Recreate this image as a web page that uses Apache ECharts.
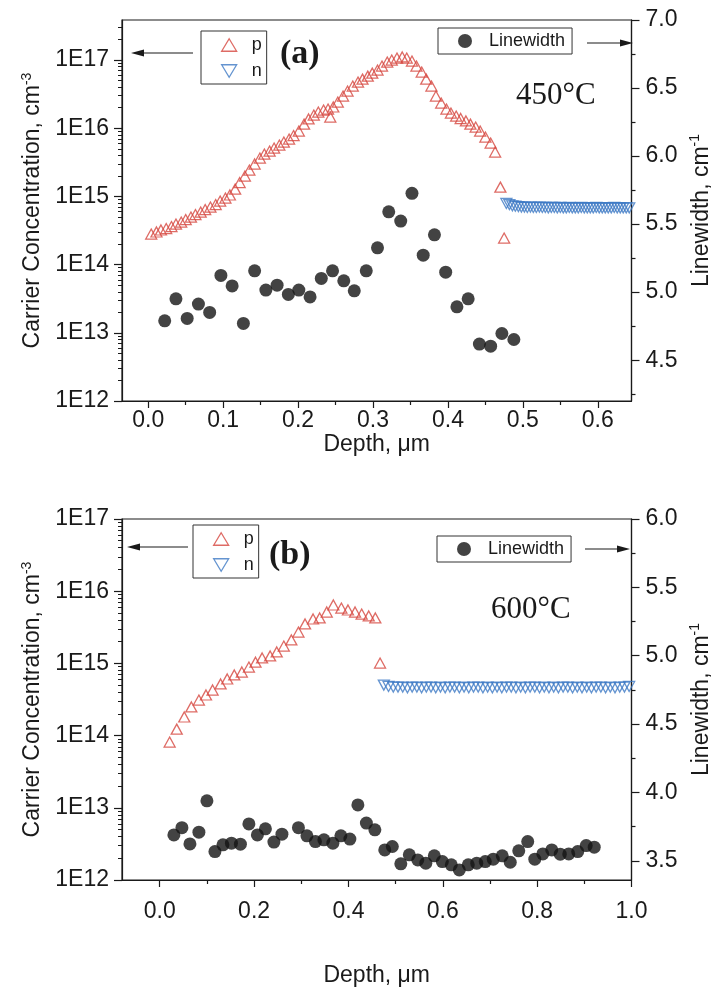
<!DOCTYPE html>
<html><head><meta charset="utf-8">
<script src="https://cdn.jsdelivr.net/npm/echarts@6.0.0/dist/echarts.min.js"></script>
<style>html,body{margin:0;padding:0;background:#fff}#c{width:721px;height:992px}</style>
</head><body><div id="c"></div>
<script>
// ---------- DATA: panel (a) 450°C ----------
const aPDepth = [0.004,0.011,0.017,0.024,0.031,0.037,0.044,0.050,0.057,0.063,0.070,0.076,0.083,0.090,0.096,0.103,0.109,0.116,0.122,0.129,0.135,0.142,0.149,0.155,0.162,0.168,0.175,0.181,0.188,0.194,0.201,0.208,0.214,0.221,0.227,0.234,0.240,0.247,0.253,0.260,0.266,0.273,0.280,0.286,0.293,0.299,0.306,0.312,0.319,0.325,0.332,0.339,0.345,0.352,0.358,0.365,0.371,0.378,0.384,0.391,0.398,0.404,0.411,0.417,0.424,0.430,0.437,0.443,0.450,0.457,0.463,0.470,0.475,0.243];
const aPConc = [2.81e14,3.01e14,3.22e14,3.38e14,3.62e14,3.94e14,4.21e14,4.58e14,4.99e14,5.43e14,5.91e14,6.43e14,6.99e14,7.61e14,8.57e14,9.48e14,1.05e15,1.28e15,1.60e15,1.99e15,2.44e15,2.99e15,3.66e15,4.19e15,4.63e15,5.13e15,5.67e15,6.28e15,6.95e15,7.82e15,9.10e15,1.15e16,1.37e16,1.56e16,1.73e16,1.85e16,1.91e16,2.05e16,2.42e16,2.97e16,3.51e16,4.16e16,4.76e16,5.26e16,5.82e16,6.44e16,7.13e16,8.17e16,9.35e16,1.00e17,1.07e17,1.11e17,1.07e17,9.66e16,8.17e16,6.67e16,5.26e16,4.16e16,2.97e16,2.34e16,1.91e16,1.67e16,1.51e16,1.39e16,1.28e16,1.15e16,1.04e16,9.10e15,7.43e15,6.07e15,4.48e15,1.37e15,2.45e14,1.46e16];
const aNDepth = [0.478,0.482,0.486,0.490,0.494,0.498,0.502,0.506,0.510,0.514,0.518,0.522,0.526,0.530,0.534,0.538,0.542,0.546,0.550,0.554,0.558,0.562,0.566,0.570,0.574,0.578,0.582,0.586,0.590,0.594,0.598,0.602,0.606,0.610,0.614,0.618,0.622,0.626,0.630,0.634,0.638,0.642];
const aNConc = [7.9e14,7.6e14,7.3e14,7.2e14,7.1e14,7.0e14,7.0e14,6.9e14,7.0e14,6.9e14,6.9e14,7.0e14,6.9e14,6.9e14,6.8e14,6.9e14,6.9e14,6.8e14,6.9e14,6.8e14,6.8e14,6.9e14,6.8e14,6.8e14,6.8e14,6.9e14,6.8e14,6.8e14,6.8e14,6.8e14,6.9e14,6.8e14,6.8e14,6.8e14,6.8e14,6.8e14,6.9e14,6.8e14,6.8e14,6.8e14,6.8e14,6.8e14];
const aLwDepth = [0.022,0.037,0.052,0.067,0.082,0.097,0.112,0.127,0.142,0.157,0.172,0.187,0.201,0.216,0.231,0.246,0.261,0.275,0.291,0.306,0.321,0.337,0.352,0.367,0.382,0.397,0.412,0.427,0.442,0.457,0.472,0.488];
const aLw = [4.789,4.951,4.807,4.912,4.851,5.123,5.046,4.770,5.157,5.015,5.051,4.983,5.015,4.965,5.101,5.157,5.083,5.010,5.157,5.326,5.590,5.522,5.726,5.272,5.421,5.147,4.892,4.951,4.618,4.603,4.696,4.652];

// ---------- DATA: panel (b) 600°C ----------
const bPDepth = [0.021,0.036,0.052,0.067,0.083,0.098,0.112,0.129,0.143,0.158,0.174,0.189,0.203,0.217,0.234,0.248,0.263,0.279,0.294,0.308,0.325,0.339,0.354,0.368,0.385,0.399,0.414,0.428,0.443,0.457,0.467];
const bPConc = [8.15e13,1.23e14,1.81e14,2.49e14,3.11e14,3.65e14,4.28e14,5.19e14,6.08e14,6.91e14,7.60e14,8.91e14,1.04e15,1.19e15,1.27e15,1.44e15,1.74e15,2.11e15,2.72e15,3.52e15,4.12e15,4.26e15,5.15e15,6.44e15,5.85e15,5.49e15,5.15e15,4.83e15,4.54e15,4.26e15,1.01e15];
const bNDepth = [0.475,0.485,0.495,0.505,0.515,0.525,0.535,0.545,0.555,0.565,0.575,0.585,0.595,0.605,0.615,0.625,0.635,0.645,0.655,0.665,0.675,0.685,0.695,0.705,0.715,0.725,0.735,0.745,0.755,0.765,0.775,0.785,0.795,0.805,0.815,0.825,0.835,0.845,0.855,0.865,0.875,0.885,0.895,0.905,0.915,0.925,0.935,0.945,0.955,0.965,0.975,0.985,0.995];
const bNConc = [5.0e14,4.8e14,4.7e14,4.7e14,4.7e14,4.6e14,4.7e14,4.7e14,4.6e14,4.7e14,4.7e14,4.6e14,4.7e14,4.6e14,4.7e14,4.7e14,4.6e14,4.7e14,4.6e14,4.7e14,4.7e14,4.6e14,4.7e14,4.6e14,4.7e14,4.6e14,4.7e14,4.7e14,4.6e14,4.7e14,4.6e14,4.7e14,4.7e14,4.6e14,4.7e14,4.6e14,4.7e14,4.6e14,4.7e14,4.7e14,4.6e14,4.7e14,4.6e14,4.7e14,4.6e14,4.7e14,4.7e14,4.6e14,4.7e14,4.6e14,4.7e14,4.7e14,4.8e14];
const bLwDepth = [0.030,0.047,0.064,0.083,0.100,0.117,0.134,0.152,0.171,0.189,0.207,0.224,0.242,0.259,0.294,0.312,0.330,0.348,0.367,0.384,0.403,0.420,0.438,0.456,0.477,0.493,0.511,0.529,0.547,0.564,0.582,0.599,0.618,0.635,0.654,0.672,0.690,0.707,0.726,0.743,0.761,0.780,0.795,0.812,0.831,0.849,0.867,0.886,0.904,0.921];
const bLw = [3.690,3.743,3.624,3.710,3.939,3.568,3.617,3.629,3.622,3.770,3.690,3.734,3.637,3.695,3.743,3.683,3.641,3.654,3.629,3.683,3.659,3.909,3.776,3.727,3.580,3.605,3.478,3.544,3.507,3.483,3.537,3.495,3.471,3.434,3.471,3.483,3.495,3.512,3.537,3.490,3.573,3.641,3.512,3.551,3.580,3.549,3.551,3.568,3.612,3.600];

// ---------- tick labels ----------
const aXTicks = [0.0,0.1,0.2,0.3,0.4,0.5,0.6];
const bXTicks = [0.0,0.2,0.4,0.6,0.8,1.0];
const concTicks = [1e12,1e13,1e14,1e15,1e16,1e17];
const aLwTicks = [4.5,5.0,5.5,6.0,6.5,7.0];
const bLwTicks = [3.5,4.0,4.5,5.0,5.5,6.0];

const zip = (xs, ys) => xs.map((x, i) => [x, ys[i]]);
const minorLog = [];
for (let e = 12; e < 18; e++) for (let m = 2; m <= 9; m++) minorLog.push(m * Math.pow(10, e));
const between = (arr, step) => { const r = []; for (let i = 0; i < arr.length - 1; i++) r.push(+(arr[i] + step).toFixed(4)); return r; };

const FONT = 'Liberation Sans';
const INK = '#1a1a1a';
const RED = '#d6463f', BLUE = '#3d79c4';
const FS = 23;
const labelStyle = { fontSize: FS, fontFamily: FONT, color: INK };
const lineStyle = { lineStyle: { color: INK, width: 1.2 } };
const supRich = { s: { fontSize: 14, fontFamily: FONT, color: INK, verticalAlign: 'top', lineHeight: 26 } };

function xAxes(grid, min, max, ticks, labelMargin, nameGap) {
  return [
    { gridIndex: grid, type: 'value', position: 'bottom', min, max, axisLine: Object.assign({ onZero: false }, lineStyle),
      axisTick: { customValues: ticks, length: 7, lineStyle: { color: INK, width: 1.2 } },
      axisLabel: Object.assign({ customValues: ticks, margin: labelMargin, formatter: v => v.toFixed(1) }, labelStyle),
      splitLine: { show: false }, name: 'Depth, μm', nameLocation: 'middle', nameGap,
      nameTextStyle: { fontSize: FS, fontFamily: FONT, color: INK } },
    { gridIndex: grid, type: 'value', position: 'bottom', min, max, axisLine: { show: false, onZero: false },
      axisTick: { customValues: between(ticks, (ticks[1] - ticks[0]) / 2), length: 4, lineStyle: { color: INK, width: 1.2 } },
      axisLabel: { show: false }, splitLine: { show: false } }
  ];
}
function yAxes(grid, logMax, lwMin, lwMax, lwTicks) {
  return [
    { gridIndex: grid, type: 'log', logBase: 10, min: 1e12, max: logMax, position: 'left',
      axisLine: Object.assign({ onZero: false }, lineStyle),
      axisTick: { customValues: concTicks, length: 8, lineStyle: { color: INK, width: 1.2 } },
      axisLabel: Object.assign({ customValues: concTicks, margin: 13, formatter: v => '1E' + Math.round(Math.log10(v)) }, labelStyle),
      splitLine: { show: false }, minorTick: { show: false },
      name: 'Carrier Concentration, cm{s|-3}', nameLocation: 'middle', nameGap: 76,
      nameTextStyle: { fontSize: FS, fontFamily: FONT, color: INK, rich: supRich } },
    { gridIndex: grid, type: 'log', logBase: 10, min: 1e12, max: logMax, position: 'left',
      axisLine: { show: false, onZero: false },
      axisTick: { customValues: minorLog.filter(v => v < logMax), length: 4, lineStyle: { color: INK, width: 1 } },
      axisLabel: { show: false }, splitLine: { show: false } },
    { gridIndex: grid, type: 'value', min: lwMin, max: lwMax, position: 'right',
      axisLine: Object.assign({ onZero: false }, lineStyle),
      axisTick: { customValues: lwTicks, length: 8, lineStyle: { color: INK, width: 1.2 } },
      axisLabel: Object.assign({ customValues: lwTicks, margin: 14, formatter: v => v.toFixed(1) }, labelStyle),
      splitLine: { show: false },
      name: 'Linewidth, cm{s|-1}', nameLocation: 'middle', nameGap: 57,
      nameTextStyle: { fontSize: FS, fontFamily: FONT, color: INK, rich: supRich } },
    { gridIndex: grid, type: 'value', min: lwMin, max: lwMax, position: 'right',
      axisLine: { show: false, onZero: false },
      axisTick: { customValues: [lwTicks[0] - 0.25].concat(between(lwTicks, 0.25)).filter(v => v > lwMin), length: 4, lineStyle: { color: INK, width: 1.2 } },
      axisLabel: { show: false }, splitLine: { show: false } }
  ];
}

const hollow = c => ({ color: 'rgba(255,255,255,0)', borderColor: c, borderWidth: 1.3 });
const triUp = c => ({ type: 'scatter', symbol: 'triangle', symbolSize: [11, 10], itemStyle: hollow(c), z: 3 });
const triDown = c => ({ type: 'scatter', symbol: 'triangle', symbolRotate: 180, symbolSize: [11, 10], itemStyle: hollow(c), z: 3 });
const dot = () => ({ type: 'scatter', symbol: 'circle', symbolSize: 13, itemStyle: { color: '#141414' }, z: 4 });

const series = [
  Object.assign(triUp(RED), { name: 'p', xAxisIndex: 0, yAxisIndex: 0, data: zip(aPDepth, aPConc) }),
  Object.assign(triDown(BLUE), { name: 'n', xAxisIndex: 0, yAxisIndex: 0, data: zip(aNDepth, aNConc) }),
  Object.assign(dot(), { name: 'Linewidth', xAxisIndex: 0, yAxisIndex: 2, data: zip(aLwDepth, aLw) }),
  Object.assign(triUp(RED), { name: 'p', xAxisIndex: 2, yAxisIndex: 4, data: zip(bPDepth, bPConc) }),
  Object.assign(triDown(BLUE), { name: 'n', xAxisIndex: 2, yAxisIndex: 4, data: zip(bNDepth, bNConc) }),
  Object.assign(dot(), { name: 'Linewidth', xAxisIndex: 2, yAxisIndex: 6, data: zip(bLwDepth, bLw) })
];

const legText = { fontSize: 18, fontFamily: FONT, color: INK, padding: [0, 0, 0, 10] };
const pnLegend = (left, top) => ({ orient: 'vertical', left, top, borderColor: '#333', borderWidth: 1, backgroundColor: '#fff',
  selectedMode: false, itemWidth: 15, itemHeight: 13, itemGap: 8, padding: [5, 5, 4, 20], textStyle: legText,
  data: [
    { name: 'p', icon: 'path://M6,0L12,10L0,10Z', itemStyle: hollow(RED) },
    { name: 'n', icon: 'path://M0,0L12,0L6,10Z', itemStyle: hollow(BLUE) }
  ] });
const lwLegend = (left, top) => ({ orient: 'vertical', left, top, borderColor: '#333', borderWidth: 1, backgroundColor: '#fff',
  selectedMode: false, itemWidth: 14, itemHeight: 14, padding: [4, 7, 4, 20], textStyle: Object.assign({}, legText, { padding: [0, 0, 0, 12] }),
  data: [{ name: 'Linewidth', icon: 'circle' }] });

const arrow = (x1, x2, y) => {
  const dir = x2 < x1 ? 1 : -1;
  return [
    { type: 'line', shape: { x1, y1: y, x2: x2 + dir * 8, y2: y }, style: { stroke: INK, lineWidth: 1.2 } },
    { type: 'polygon', shape: { points: [[x2, y], [x2 + dir * 13, y - 3.5], [x2 + dir * 13, y + 3.5]] }, style: { fill: INK } }
  ];
};
const txt = (x, y, t, size, bold) => ({ type: 'text', x, y, style: { text: t, fontSize: size, fontFamily: 'Liberation Serif', fontWeight: bold ? 'bold' : 'normal', fill: INK, textVerticalAlign: 'middle' } });

const chart = echarts.init(document.getElementById('c'), null, { renderer: 'canvas' });
chart.setOption({
  backgroundColor: '#fff',
  animation: false,
  grid: [
    { left: 122, top: 20, width: 519, height: 381, show: true, borderColor: INK, borderWidth: 1.2, backgroundColor: 'transparent' },
    { left: 122, top: 519, width: 523, height: 361, show: true, borderColor: INK, borderWidth: 1.2, backgroundColor: 'transparent' }
  ],
  xAxis: [].concat(xAxes(0, -0.035, 0.645, aXTicks, 8, 28), xAxes(1, -0.08, 1.0, bXTicks, 20, 84)),
  yAxis: [].concat(yAxes(0, 3.87e17, 4.2, 7.0, aLwTicks), yAxes(1, 1e17, 3.36, 6.0, bLwTicks)),
  legend: [pnLegend(201, 31), lwLegend(438, 28), pnLegend(193, 525), lwLegend(437, 536)],
  graphic: [].concat(
    arrow(193, 131, 53), arrow(587, 633, 43), arrow(188, 127, 547), arrow(585, 630, 549),
    [txt(280, 54, '(a)', 34, true), txt(516, 96, '450°C', 31, false), txt(269, 555, '(b)', 34, true), txt(491, 610, '600°C', 31, false)]
  ),
  series
});
</script></body></html>
